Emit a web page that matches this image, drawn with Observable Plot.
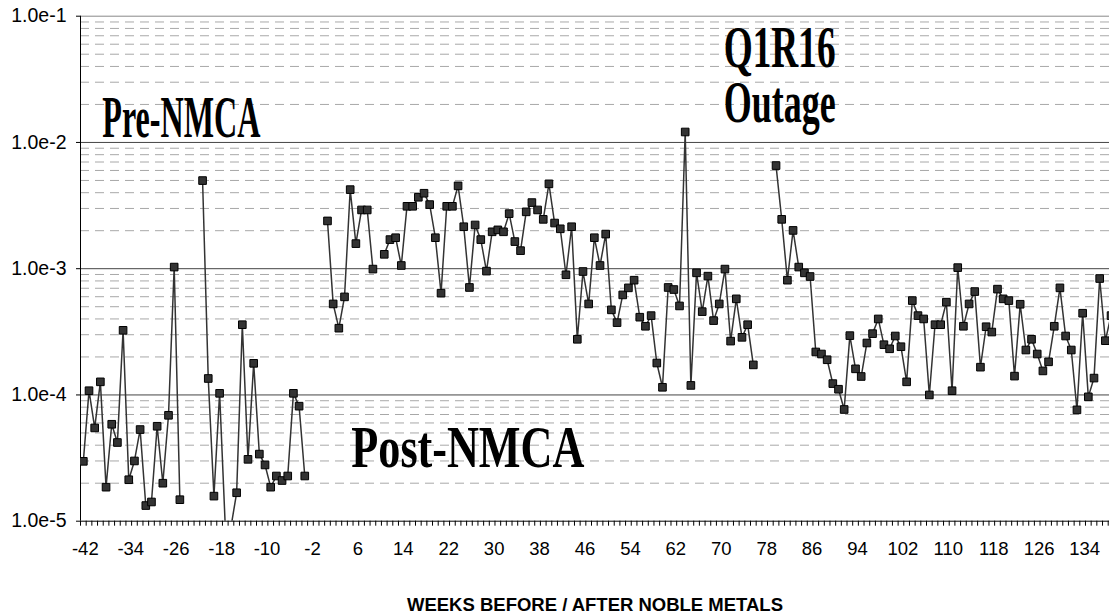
<!DOCTYPE html>
<html><head><meta charset="utf-8">
<script src="https://cdn.jsdelivr.net/npm/d3@7"></script>
<script src="https://cdn.jsdelivr.net/npm/@observablehq/plot@0.6"></script>
<style>body{margin:0;background:#fff}</style>
</head><body><div id="chart"></div>
<script>
// ---- data ----
const firstWeek = -42;
// one value per consecutive week starting at firstWeek; null = no sample
const values = [
  2.98e-5, 1.08e-4, 5.48e-5, 1.27e-4, 1.86e-5, 5.86e-5, 4.2e-5, 3.25e-4, 2.13e-5, 3.0e-5,
  5.32e-5, 1.33e-5, 1.42e-5, 5.65e-5, 2.0e-5, 6.9e-5, 1.03e-3, 1.48e-5, null, null,
  null, 4.99e-3, 1.35e-4, 1.58e-5, 1.03e-4, 9e-6, 9e-6, 1.68e-5, 3.6e-4, 3.09e-5,
  1.78e-4, 3.4e-5, 2.79e-5, 1.86e-5, 2.28e-5, 2.1e-5, 2.28e-5, 1.03e-4, 8.15e-5, 2.28e-5,
  null, null, null, 2.39e-3, 5.26e-4, 3.38e-4, 5.98e-4, 4.23e-3, 1.58e-3, 2.92e-3,
  2.92e-3, 9.93e-4, null, 1.30e-3, 1.70e-3, 1.76e-3, 1.06e-3, 3.12e-3, 3.12e-3, 3.68e-3,
  3.96e-3, 3.22e-3, 1.76e-3, 6.4e-4, 3.12e-3, 3.12e-3, 4.53e-3, 2.15e-3, 7.1e-4, 2.22e-3,
  1.70e-3, 9.57e-4, 1.96e-3, 2.03e-3, 1.96e-3, 2.73e-3, 1.64e-3, 1.39e-3, 2.82e-3, 3.34e-3,
  2.92e-3, 2.46e-3, 4.70e-3, 2.30e-3, 2.07e-3, 8.95e-4, 2.15e-3, 2.76e-4, 9.5e-4, 5.26e-4,
  1.76e-3, 1.06e-3, 1.88e-3, 4.72e-4, 3.74e-4, 6.2e-4, 7.05e-4, 8.11e-4, 4.13e-4, 3.5e-4,
  4.25e-4, 1.79e-4, 1.15e-4, 7.1e-4, 6.84e-4, 5.07e-4, 1.21e-2, 1.19e-4, 9.27e-4, 4.57e-4,
  8.73e-4, 3.88e-4, 5.26e-4, 9.93e-4, 2.67e-4, 5.77e-4, 2.86e-4, 3.6e-4, 1.73e-4, null,
  null, null, 6.56e-3, 2.46e-3, 8.11e-4, 2.01e-3, 1.03e-3, 9.27e-4, 8.67e-4, 2.19e-4,
  2.11e-4, 1.90e-4, 1.23e-4, 1.11e-4, 7.67e-5, 2.95e-4, 1.61e-4, 1.40e-4, 2.58e-4, 3.06e-4,
  4.0e-4, 2.50e-4, 2.32e-4, 2.93e-4, 2.41e-4, 1.27e-4, 5.59e-4, 4.25e-4, 4.0e-4, 1.0e-4,
  3.6e-4, 3.6e-4, 5.43e-4, 1.08e-4, 1.02e-3, 3.50e-4, 5.26e-4, 6.59e-4, 1.66e-4, 3.47e-4,
  3.15e-4, 6.89e-4, 5.77e-4, 5.59e-4, 1.41e-4, 5.23e-4, 2.27e-4, 2.76e-4, 2.11e-4, 1.55e-4,
  1.83e-4, 3.50e-4, 7.05e-4, 2.93e-4, 2.27e-4, 7.62e-5, 4.44e-4, 9.66e-5, 1.36e-4, 8.36e-4,
  2.69e-4, 4.25e-4
];
const weeks = values.map((_, i) => firstWeek + i);

const xTickLabels = [-42, -34, -26, -18, -10, -2, 6, 14, 22, 30, 38, 46, 54, 62, 70, 78, 86, 94, 102, 110, 118, 126, 134];
const yTicks = [1e-5, 1e-4, 1e-3, 1e-2, 1e-1];
const yTickLabels = ["1.0e-5", "1.0e-4", "1.0e-3", "1.0e-2", "1.0e-1"];

const annotationText = ["Pre-NMCA", "Q1R16\nOutage", "Post-NMCA"];
const annotationWeek = [-38.65, 70.77, 5.2];
const annotationValue = [1.10e-2, 1.446e-2, 2.68e-5];

const axisTitle = "WEEKS BEFORE / AFTER NOBLE METALS";

// ---- build tables ----
const data = weeks.map((w, i) => ({week: w, value: values[i]}));
const annotations = annotationText.map((t, i) => ({text: t, week: annotationWeek[i], value: annotationValue[i]}));
const minorGrid = [];
for (const d of yTicks.slice(0, -1)) for (let k = 2; k <= 9; k++) minorGrid.push(k * d);
const halfWeeks = d3.range(firstWeek - 0.5, weeks[weeks.length - 1], 1);

// styling: rendered text widths (px)
const textWidths = {"Pre-NMCA": 158, "Q1R16": 112, "Outage": 112, "Post-NMCA": 233};
textWidths[axisTitle] = 376;

const chart = Plot.plot({
  width: 1109,
  height: 616,
  marginLeft: 80,
  marginRight: 0,
  marginTop: 15.7,
  marginBottom: 95.3,
  x: {domain: [-42.5, 138.73]},
  y: {type: "log", domain: [1e-5, 1e-1]},
  style: {fontFamily: "Arial, 'Liberation Sans', sans-serif", fontSize: "18px", background: "#fff", color: "#000"},
  marks: [
    Plot.ruleY(minorGrid, {stroke: "#a8a8a8", strokeDasharray: "9,6"}),
    Plot.ruleY(yTicks.slice(1, -1), {stroke: "#444"}),
    Plot.ruleY([yTicks[yTicks.length - 1]], {stroke: "#888"}),
    Plot.ruleY([yTicks[0]], {stroke: "#000"}),
    Plot.ruleX([firstWeek - 0.5], {stroke: "#000"}),
    Plot.axisY({ticks: yTicks, tickFormat: d => yTickLabels[yTicks.indexOf(d)], tickSize: 4, tickPadding: 10, label: null, fontSize: 19.5}),
    Plot.axisX({ticks: halfWeeks, tickFormat: () => "", tickSize: 5, label: null}),
    Plot.axisX({ticks: xTickLabels, tickFormat: d => String(d), tickSize: 0, tickPadding: 21, dx: 2, label: null, fontSize: 18.5}),
    Plot.line(data, {x: "week", y: "value", stroke: "#333", strokeWidth: 1.5, clip: true}),
    Plot.dot(data, {x: "week", y: "value", symbol: "square", r: 4.3, fill: "#333", stroke: "#000", strokeWidth: 1, clip: true}),
    Plot.text(annotations, {x: "week", y: "value", text: "text", textAnchor: "start", lineAnchor: "bottom", lineHeight: 0.917,
      fontFamily: "'Liberation Serif', 'Times New Roman', serif", fontWeight: "bold", fontSize: 60, fill: "#000"}),
    Plot.text([axisTitle], {frameAnchor: "bottom", dy: 89.3, lineAnchor: "bottom", fontWeight: "bold", fontSize: 18, fill: "#000"})
  ]
});

d3.select(chart).selectAll("text, tspan").each(function() {
  const w = textWidths[this.textContent];
  if (w) { this.setAttribute("textLength", w); this.setAttribute("lengthAdjust", "spacingAndGlyphs"); }
});

document.getElementById("chart").appendChild(chart);
</script>
</body></html>
